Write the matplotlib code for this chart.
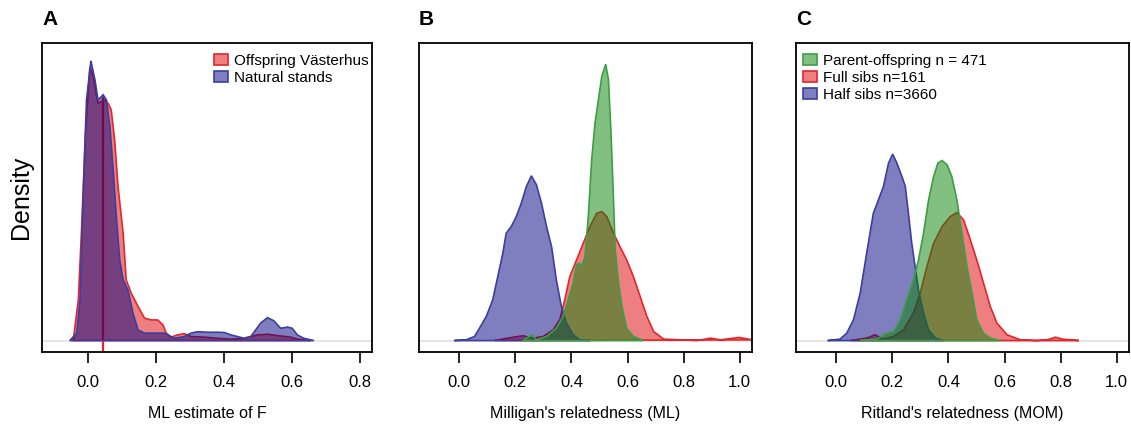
import numpy as np
import matplotlib
matplotlib.use("Agg")
import matplotlib.pyplot as plt
from matplotlib.patches import Patch

plt.rcParams['font.family'] = ['Liberation Sans', 'DejaVu Sans']

# ---- data (density in arbitrary units) ----
# A: ML estimate of F
a_nat_x = [-0.054, -0.034, -0.024, -0.015, -0.005, 0.008, 0.020, 0.029, 0.044, 0.054, 0.064, 0.073,
           0.083, 0.093, 0.103, 0.117, 0.132, 0.147, 0.166, 0.196, 0.225, 0.254, 0.283, 0.303, 0.323,
           0.352, 0.381, 0.401, 0.420, 0.459, 0.479, 0.508, 0.528, 0.547, 0.567, 0.587, 0.601, 0.616,
           0.635, 0.665]
a_nat_y = [0.00, 0.26, 1.42, 4.92, 8.41, 9.78, 9.11, 8.41, 8.59, 8.41, 7.48, 6.08,
           4.33, 2.82, 2.12, 1.77, 0.96, 0.37, 0.26, 0.26, 0.26, 0.08, 0.14, 0.26, 0.31,
           0.29, 0.29, 0.28, 0.20, 0.08, 0.14, 0.61, 0.80, 0.69, 0.43, 0.47, 0.43, 0.20,
           0.08, 0.00]
a_off_x = [-0.044, -0.029, -0.020, -0.008, 0.005, 0.015, 0.029, 0.047, 0.059, 0.068, 0.078, 0.088,
           0.103, 0.112, 0.127, 0.147, 0.166, 0.186, 0.205, 0.220, 0.230, 0.244, 0.264, 0.283, 0.303,
           0.342, 0.381, 0.420, 0.459, 0.499, 0.528, 0.567, 0.596, 0.616, 0.655]
a_off_y = [0.00, 1.42, 3.75, 7.25, 9.56, 9.21, 8.29, 8.41, 8.29, 8.06, 7.01, 5.38,
           3.75, 2.12, 1.65, 1.19, 0.78, 0.72, 0.72, 0.55, 0.26, 0.12, 0.20, 0.24, 0.14,
           0.12, 0.08, 0.05, 0.08, 0.20, 0.22, 0.16, 0.12, 0.05, 0.00]
a_mean = 0.045
a_mean_h = 8.53

# B: Milligan's relatedness (ML)
b_half_x = [-0.018, 0.024, 0.054, 0.072, 0.096, 0.119, 0.137, 0.155, 0.167, 0.185, 0.203, 0.221,
            0.239, 0.257, 0.275, 0.293, 0.311, 0.329, 0.346, 0.364, 0.382, 0.406, 0.430, 0.466]
b_half_y = [0.00, 0.03, 0.17, 0.52, 1.01, 1.71, 2.68, 3.66, 4.50, 4.78, 5.20, 5.76,
            6.46, 6.91, 6.53, 5.76, 4.78, 3.94, 2.54, 1.43, 0.73, 0.24, 0.03, 0.00]
b_full_x = [0.125, 0.191, 0.227, 0.263, 0.299, 0.335, 0.358, 0.376, 0.394, 0.418, 0.442, 0.466,
            0.490, 0.508, 0.526, 0.550, 0.573, 0.597, 0.621, 0.645, 0.669, 0.693, 0.729, 0.789,
            0.848, 0.896, 0.932, 0.998, 1.045]
b_full_y = [0.00, 0.14, 0.20, 0.10, 0.17, 0.45, 0.87, 1.71, 2.68, 3.38, 4.08, 4.78,
            5.34, 5.41, 5.20, 4.50, 3.94, 3.38, 2.68, 1.85, 1.01, 0.38, 0.06, 0.03,
            0.00, 0.10, 0.03, 0.13, 0.03]
b_po_x = [0.227, 0.259, 0.275, 0.311, 0.346, 0.370, 0.388, 0.406, 0.418, 0.428, 0.436, 0.448,
          0.460, 0.472, 0.484, 0.496, 0.508, 0.522, 0.532, 0.541, 0.550, 0.556, 0.568, 0.580,
          0.597, 0.621, 0.657]
b_po_y = [0.00, 0.24, 0.03, 0.17, 0.52, 1.01, 1.71, 2.41, 3.18, 3.24, 3.10, 3.52,
          5.20, 7.58, 9.12, 10.10, 11.07, 11.59, 10.94, 8.70, 5.90, 3.80, 2.41, 1.43,
          0.52, 0.17, 0.00]

# C: Ritland's relatedness (MOM)
c_half_x = [-0.031, 0.013, 0.037, 0.061, 0.085, 0.108, 0.132, 0.150, 0.168, 0.186, 0.201, 0.216,
            0.234, 0.246, 0.257, 0.269, 0.281, 0.293, 0.311, 0.329, 0.353, 0.383]
c_half_y = [0.00, 0.06, 0.31, 0.87, 1.99, 3.66, 5.34, 5.90, 6.46, 7.44, 7.82, 7.44,
            6.88, 6.46, 5.34, 4.08, 3.10, 2.12, 1.15, 0.45, 0.10, 0.00]
c_full_x = [0.049, 0.108, 0.138, 0.168, 0.204, 0.240, 0.275, 0.299, 0.323, 0.347, 0.377, 0.406,
            0.430, 0.454, 0.478, 0.501, 0.525, 0.549, 0.573, 0.609, 0.657, 0.716, 0.752, 0.782,
            0.806, 0.865]
c_full_y = [0.00, 0.10, 0.24, 0.06, 0.17, 0.45, 1.15, 1.99, 3.10, 4.08, 4.78, 5.20,
            5.37, 5.06, 4.22, 3.38, 2.41, 1.43, 0.73, 0.24, 0.03, 0.00, 0.03, 0.14,
            0.06, 0.00]
c_po_x = [0.085, 0.144, 0.180, 0.204, 0.228, 0.251, 0.275, 0.293, 0.311, 0.329, 0.347, 0.362,
          0.377, 0.395, 0.412, 0.430, 0.448, 0.466, 0.484, 0.501, 0.525, 0.549, 0.585]
c_po_y = [0.00, 0.06, 0.31, 0.38, 0.87, 1.71, 2.54, 3.38, 4.50, 5.90, 6.88, 7.44,
          7.55, 7.37, 6.88, 5.90, 4.50, 3.10, 1.99, 0.87, 0.31, 0.10, 0.00]

a_labels = ['Offspring Västerhus', 'Natural stands']
c_labels = ['Parent-offspring n = 471', 'Full sibs n=161', 'Half sibs n=3660']

# colours
red_f, red_e = (0.87, 0.0, 0.02, 0.5), '#E3262B'
blue_f, blue_e = (0.0, 0.0, 0.5, 0.5), '#3B3F9E'
green_f, green_e = (0.02, 0.51, 0.02, 0.5), '#3E9E45'

W, H = 1131, 426
fig = plt.figure(figsize=(W / 100, H / 100), dpi=100)


def make_ax(left_px, right_px, xlim, ymax, xticks, xlabel, letter):
    ax = fig.add_axes([left_px / W, 1 - 352 / H, (right_px - left_px) / W, 309 / H])
    ax.set_xlim(*xlim)
    ax.set_ylim(-0.04 * ymax, 1.04 * ymax)
    ax.set_yticks([])
    ax.set_xticks(xticks)
    ax.set_xticklabels(['%.1f' % t for t in xticks])
    ax.tick_params(axis='x', direction='out', length=8, width=1.2, pad=8.5, labelsize=12)
    for s in ax.spines.values():
        s.set_linewidth(1.3)
    ax.axhline(0, color='#E6E6E6', lw=1.5, zorder=0)
    ax.text(0.5, -0.2, xlabel, transform=ax.transAxes, ha='center', va='center', fontsize=11.5)
    ax.text(0.0, 1.075, letter, transform=ax.transAxes, ha='left', va='center',
            fontsize=15, fontweight='bold')
    return ax


def dens(ax, x, y, fc, ec, z):
    ax.fill(x, y, facecolor=fc, edgecolor=ec, lw=1.2, zorder=z)


# A
axA = make_ax(42, 372, (-0.136, 0.836), 10.0, [0.0, 0.2, 0.4, 0.6, 0.8], 'ML estimate of F', 'A')
axA.plot([a_mean, a_mean], [-0.04 * 10.0, a_mean_h], color='#E3262B', lw=1.6, zorder=1,
         solid_capstyle='butt')
dens(axA, a_off_x, a_off_y, red_f, red_e, 2)
dens(axA, a_nat_x, a_nat_y, blue_f, blue_e, 3)
axA.text(-0.065, 0.5, 'Density', transform=axA.transAxes, rotation=90, ha='center', va='center',
         fontsize=18)
axA.legend(handles=[Patch(facecolor=red_f, edgecolor=red_e, lw=1.2),
                    Patch(facecolor=blue_f, edgecolor=blue_e, lw=1.2)],
           labels=a_labels, loc='upper left', bbox_to_anchor=(0.521, 0.965), frameon=False,
           fontsize=11, handlelength=0.9, handleheight=0.7, handletextpad=0.4,
           labelspacing=0.2, borderpad=0, borderaxespad=0)

# B
axB = make_ax(419, 752, (-0.144, 1.044), 12.0, [0.0, 0.2, 0.4, 0.6, 0.8, 1.0],
              "Milligan's relatedness (ML)", 'B')
dens(axB, b_full_x, b_full_y, red_f, red_e, 2)
dens(axB, b_half_x, b_half_y, blue_f, blue_e, 3)
dens(axB, b_po_x, b_po_y, green_f, green_e, 4)

# C
axC = make_ax(796, 1129, (-0.144, 1.044), 12.0, [0.0, 0.2, 0.4, 0.6, 0.8, 1.0],
              "Ritland's relatedness (MOM)", 'C')
dens(axC, c_full_x, c_full_y, red_f, red_e, 2)
dens(axC, c_half_x, c_half_y, blue_f, blue_e, 3)
dens(axC, c_po_x, c_po_y, green_f, green_e, 4)
axC.legend(handles=[Patch(facecolor=green_f, edgecolor=green_e, lw=1.2),
                    Patch(facecolor=red_f, edgecolor=red_e, lw=1.2),
                    Patch(facecolor=blue_f, edgecolor=blue_e, lw=1.2)],
           labels=c_labels, loc='upper left', bbox_to_anchor=(0.021, 0.965), frameon=False,
           fontsize=11, handlelength=0.9, handleheight=0.7, handletextpad=0.4,
           labelspacing=0.2, borderpad=0, borderaxespad=0)

fig.savefig('out.png', dpi=100)
